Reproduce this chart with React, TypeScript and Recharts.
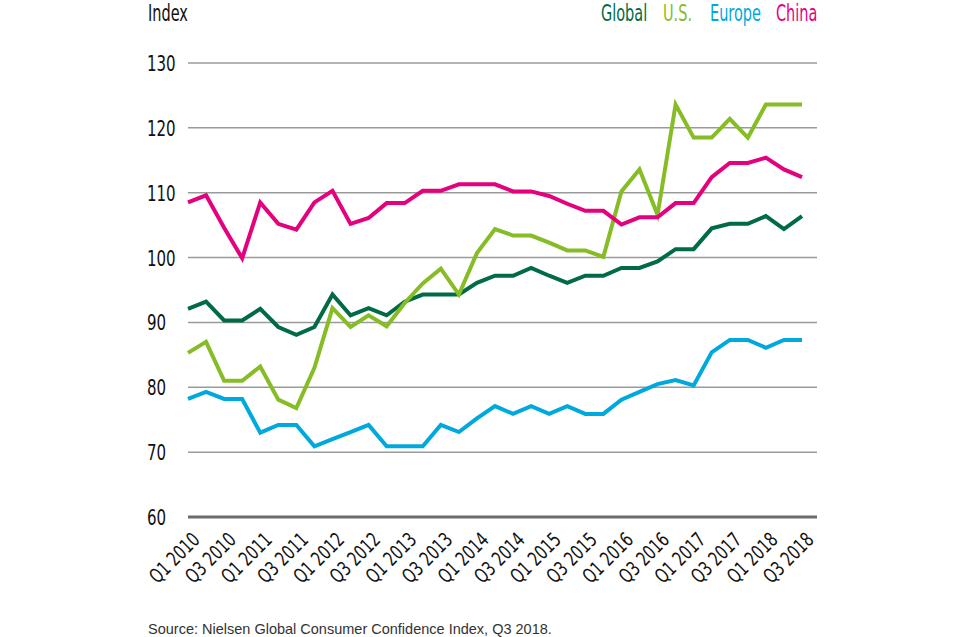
import React from "react";
import { LineChart, Line, XAxis, YAxis, CartesianGrid } from "recharts";

const quarters: string[] = [
  "Q1 2010", "Q2 2010", "Q3 2010", "Q4 2010",
  "Q1 2011", "Q2 2011", "Q3 2011", "Q4 2011",
  "Q1 2012", "Q2 2012", "Q3 2012", "Q4 2012",
  "Q1 2013", "Q2 2013", "Q3 2013", "Q4 2013",
  "Q1 2014", "Q2 2014", "Q3 2014", "Q4 2014",
  "Q1 2015", "Q2 2015", "Q3 2015", "Q4 2015",
  "Q1 2016", "Q2 2016", "Q3 2016", "Q4 2016",
  "Q1 2017", "Q2 2017", "Q3 2017", "Q4 2017",
  "Q1 2018", "Q2 2018", "Q3 2018",
];

const globalIdx: number[] = [
  92.1, 93.2, 90.3, 90.3, 92.1, 89.3, 88.1, 89.3, 94.3, 91.1, 92.2, 91.1,
  93.2, 94.3, 94.3, 94.3, 96.1, 97.2, 97.2, 98.4, 97.2, 96.1, 97.2, 97.2,
  98.4, 98.4, 99.4, 101.3, 101.3, 104.5, 105.2, 105.2, 106.4, 104.4, 106.4,
];

const usIdx: number[] = [
  85.3, 87.0, 81.0, 81.0, 83.2, 78.1, 76.8, 83.0, 92.2, 89.3, 91.1, 89.4,
  93.0, 96.0, 98.3, 94.3, 100.7, 104.4, 103.4, 103.4, 102.3, 101.1, 101.1, 100.1,
  110.2, 113.6, 106.6, 123.6, 118.5, 118.5, 121.4, 118.5, 123.6, 123.6, 123.6,
];

const europeIdx: number[] = [
  78.2, 79.3, 78.2, 78.2, 73.0, 74.2, 74.2, 70.9, 72.0, 73.1, 74.2, 70.9,
  70.9, 70.9, 74.2, 73.1, 75.2, 77.1, 75.9, 77.1, 75.9, 77.1, 75.9, 75.9,
  78.1, 79.3, 80.5, 81.1, 80.3, 85.4, 87.3, 87.3, 86.1, 87.3, 87.3,
];

const chinaIdx: number[] = [
  108.5, 109.6, 104.6, 99.9, 108.5, 105.2, 104.3, 108.5, 110.3, 105.2, 106.1, 108.4,
  108.4, 110.3, 110.3, 111.3, 111.3, 111.3, 110.2, 110.2, 109.5, 108.3, 107.2, 107.2,
  105.1, 106.2, 106.2, 108.4, 108.4, 112.4, 114.6, 114.6, 115.4, 113.6, 112.4,
];

const yTicks: number[] = [60, 70, 80, 90, 100, 110, 120, 130];

const series = [
  { key: "Global", color: "#006B45", values: globalIdx },
  { key: "U.S.", color: "#86BC25", values: usIdx },
  { key: "Europe", color: "#00A9DD", values: europeIdx },
  { key: "China", color: "#E5007D", values: chinaIdx },
];

const data = quarters.map((q, i) => {
  const row: Record<string, string | number> = { quarter: q };
  series.forEach((s) => {
    row[s.key] = s.values[i];
  });
  return row;
});

const NARROW = '"Liberation Sans Narrow", "DejaVu Sans Condensed", "Liberation Sans", sans-serif';

const YTick = (props: any) => {
  const { x, y, payload } = props;
  return (
    <g transform={`translate(${x - 41}, ${y + 8}) scale(0.76, 1)`}>
      <text x={0} y={0} textAnchor="start" fontFamily={NARROW} fontSize={22} fill="#111">
        {payload.value}
      </text>
    </g>
  );
};

const XTick = (props: any) => {
  const { x, y, payload } = props;
  const tx = x + 13;
  const ty = y + 24;
  return (
    <g transform={`translate(${tx}, ${ty}) rotate(-45) scale(0.8, 1)`}>
      <text x={0} y={0} textAnchor="end" fontFamily={NARROW} fontSize={20} fill="#111">
        {payload.value}
      </text>
    </g>
  );
};

const legendPos: { label: string; color: string; left: number }[] = [
  { label: "Global", color: "#006B45", left: 601 },
  { label: "U.S.", color: "#86BC25", left: 663 },
  { label: "Europe", color: "#00A9DD", left: 710 },
  { label: "China", color: "#E5007D", left: 776 },
];

const headStyle: React.CSSProperties = {
  position: "absolute",
  top: 0,
  fontFamily: NARROW,
  fontSize: 23,
  lineHeight: "26px",
  transform: "scaleX(0.7)",
  transformOrigin: "0 0",
  whiteSpace: "nowrap",
};

export default function App() {
  return (
    <div
      style={{
        position: "absolute",
        left: 0,
        top: 0,
        width: 960,
        height: 637,
        background: "#fff",
        overflow: "hidden",
      }}
    >
      <LineChart
        width={960}
        height={637}
        data={data}
        margin={{ top: 63, right: 143, bottom: 40, left: 148 }}
      >
        <CartesianGrid vertical={false} stroke="#9a9a9a" strokeWidth={1.5} />
        <XAxis
          dataKey="quarter"
          interval={1}
          tickLine={false}
          tickSize={0}
          tickMargin={0}
          height={80}
          padding={{ left: 0, right: 15 }}
          axisLine={{ stroke: "#6b6b6b", strokeWidth: 3 }}
          tick={<XTick />}
        />
        <YAxis
          domain={[60, 130]}
          ticks={yTicks}
          width={40}
          axisLine={false}
          tickLine={false}
          tickSize={0}
          tickMargin={0}
          tick={<YTick />}
        />
        {series.map((s) => (
          <Line
            key={s.key}
            type="linear"
            dataKey={s.key}
            stroke={s.color}
            strokeWidth={4}
            dot={false}
            activeDot={false}
            isAnimationActive={false}
          />
        ))}
      </LineChart>
      <div style={{ ...headStyle, left: 148, color: "#111" }}>Index</div>
      {legendPos.map((l) => (
        <div key={l.label} style={{ ...headStyle, left: l.left, color: l.color }}>
          {l.label}
        </div>
      ))}
      <div
        style={{
          position: "absolute",
          left: 148,
          top: 621,
          fontFamily: '"Liberation Sans", "DejaVu Sans", sans-serif',
          fontSize: 14.5,
          lineHeight: "16px",
          color: "#333",
          whiteSpace: "nowrap",
        }}
      >
        Source: Nielsen Global Consumer Confidence Index, Q3 2018.
      </div>
    </div>
  );
}
